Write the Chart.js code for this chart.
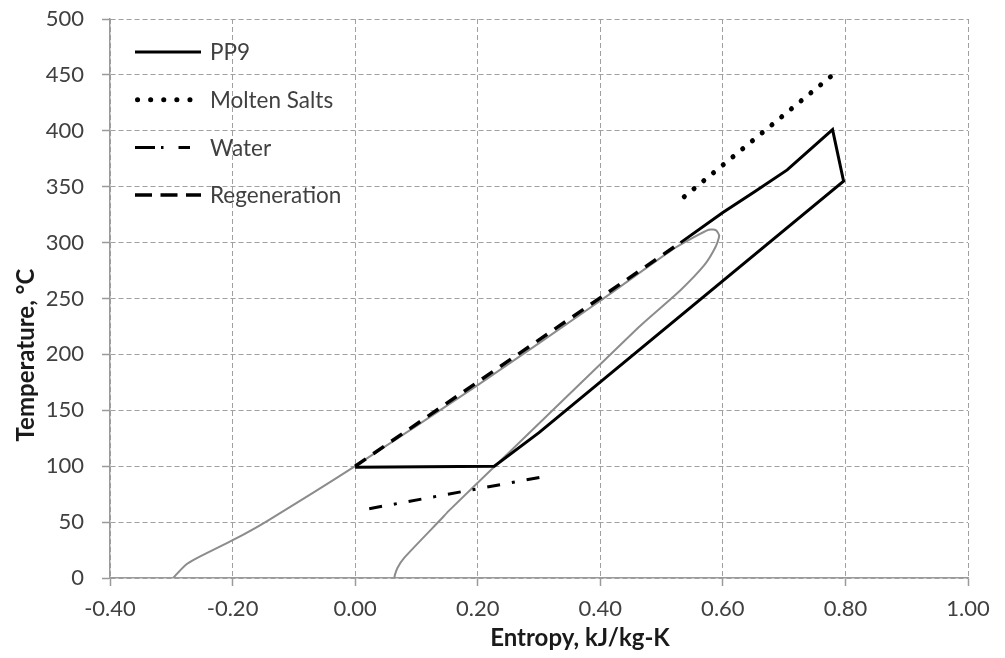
<!DOCTYPE html>
<html>
<head>
<meta charset="utf-8">
<script src="https://cdn.jsdelivr.net/npm/chart.js@4.4.1/dist/chart.umd.min.js"></script>
<style>
  html, body { margin: 0; padding: 0; background: #fff; }
  #wrap { width: 1005px; height: 658px; }
</style>
</head>
<body>
<div id="wrap"><canvas id="tsChart" width="1005" height="658"></canvas></div>
<script>
/* ------------------------------
   DATA (entropy kJ/kg-K, temperature °C)
------------------------------ */
const seriesNames = ['PP9', 'Molten Salts', 'Water', 'Regeneration'];

const pp9S = [0.000, 0.227, 0.300, 0.797, 0.779, 0.705, 0.653, 0.600, 0.531];
const pp9T = [99, 100, 130, 355, 401, 365, 346, 327, 300];

const saltS = [0.537, 0.777];
const saltT = [341, 449];

const waterS = [0.023, 0.306];
const waterT = [62, 90.5];

const regenS = [0.000, 0.531];
const regenT = [100, 300];

// grey saturation curve of the working fluid
const domeS = [-0.297, -0.278, -0.259, -0.199, -0.145, 0.000, 0.200, 0.400, 0.517, 0.550, 0.577, 0.589, 0.594, 0.588, 0.570, 0.530, 0.463, 0.230, 0.154, 0.140, 0.080, 0.069, 0.065, 0.064];
const domeT = [0, 11, 17.5, 34, 50.5, 100, 172.5, 248, 293.5, 304, 311.5, 311, 306, 296, 280, 257, 224.5, 101, 60.7, 52.5, 18, 9, 3, 0];

const xTickLabels = ['-0.40', '-0.20', '0.00', '0.20', '0.40', '0.60', '0.80', '1.00'];
const yTickLabels = ['0', '50', '100', '150', '200', '250', '300', '350', '400', '450', '500'];

const xTitle = 'Entropy, kJ/kg-K';
const yTitle = 'Temperature, °C';

/* ------------------------------
   HELPERS
------------------------------ */
const toPts = (s, t) => s.map((v, i) => ({ x: v, y: t[i] }));

const FONT = 'Lato, "Open Sans", "Liberation Sans", sans-serif';
const TEXT = '#404040';
const GRID = '#a0a0a0';

/* ------------------------------
   LEGEND (inside plot, top left)
------------------------------ */
const insideLegend = {
  id: 'insideLegend',
  afterDraw(chart) {
    const ctx = chart.ctx;
    ctx.save();
    ctx.font = '22.5px ' + FONT;
    ctx.textBaseline = 'middle';
    ctx.textAlign = 'left';
    chart.data.datasets.forEach((ds) => {
      if (ds.legendRow === undefined) return;
      const y = 52 + ds.legendRow * 47.7;
      ctx.save();
      ctx.strokeStyle = ds.borderColor;
      ctx.lineWidth = ds.borderWidth;
      ctx.lineCap = ds.borderCapStyle || 'butt';
      ctx.setLineDash(ds.legendDash);
      ctx.beginPath();
      ctx.moveTo(135 + (ds.legendInset || 0), y);
      ctx.lineTo(135 + ds.legendLen, y);
      ctx.stroke();
      ctx.restore();
      ctx.fillStyle = TEXT;
      ctx.fillText(ds.label, 210, y + 1);
    });
    ctx.restore();
  }
};

/* ------------------------------
   AXIS TITLES
------------------------------ */
const axisTitles = {
  id: 'axisTitles',
  afterDraw(chart) {
    const ctx = chart.ctx;
    ctx.save();
    ctx.font = 'bold 24px ' + FONT;
    ctx.fillStyle = '#1a1a1a';
    ctx.textAlign = 'center';
    ctx.textBaseline = 'middle';
    ctx.fillText(xTitle, 580, 638);
    ctx.translate(26, 355);
    ctx.rotate(-Math.PI / 2);
    ctx.fillText(yTitle, 0, 0);
    ctx.restore();
  }
};

/* ------------------------------
   CHART
------------------------------ */
const ctx = document.getElementById('tsChart');
new Chart(ctx, {
  type: 'scatter',
  data: {
    datasets: [
      {
        label: seriesNames[0],
        data: toPts(pp9S, pp9T),
        showLine: true,
        borderColor: '#000',
        borderWidth: 3,
        borderJoinStyle: 'miter',
        pointRadius: 0,
        tension: 0,
        order: 0,
        legendRow: 0, legendDash: [], legendLen: 66
      },
      {
        label: seriesNames[1],
        data: toPts(saltS, saltT),
        showLine: true,
        borderColor: '#000',
        borderWidth: 5,
        borderCapStyle: 'round',
        borderDash: [0.1, 12.5],
        pointRadius: 0,
        order: 0,
        legendRow: 1, legendDash: [0.1, 13], legendLen: 66, legendInset: 2.5
      },
      {
        label: seriesNames[2],
        data: toPts(waterS, waterT),
        showLine: true,
        borderColor: '#000',
        borderWidth: 3,
        borderDash: [13, 12, 3, 12],
        pointRadius: 0,
        order: 0,
        legendRow: 2, legendDash: [20, 6, 2.5, 15], legendLen: 55
      },
      {
        label: seriesNames[3],
        data: toPts(regenS, regenT),
        showLine: true,
        borderColor: '#000',
        borderWidth: 3.5,
        borderDash: [13, 9],
        pointRadius: 0,
        order: 0,
        legendRow: 3, legendDash: [17, 8.5], legendLen: 66
      },
      {
        label: 'dome',
        data: toPts(domeS, domeT),
        showLine: true,
        borderColor: '#8c8c8c',
        borderWidth: 2,
        pointRadius: 0,
        tension: 0.2,
        order: 5
      }
    ]
  },
  options: {
    responsive: false,
    maintainAspectRatio: false,
    animation: false,
    devicePixelRatio: 1,
    layout: { autoPadding: false, padding: { top: 19, right: 37, left: 0, bottom: 0 } },
    plugins: {
      legend: { display: false },
      title: { display: false },
      tooltip: { enabled: false }
    },
    scales: {
      x: {
        type: 'linear',
        min: -0.4,
        max: 1.0,
        afterFit: (scale) => {
          scale.height = 80;
          scale.paddingLeft = 0;
          scale.paddingRight = 0;
        },
        afterBuildTicks: (scale) => {
          scale.ticks = xTickLabels.map(l => ({ value: parseFloat(l) }));
        },
        ticks: {
          autoSkip: false,
          maxRotation: 0,
          padding: 10,
          color: TEXT,
          font: { family: FONT, size: 22 },
          callback: (v, i) => xTickLabels[i]
        },
        grid: {
          color: GRID,
          lineWidth: 1,
          tickLength: 8,
          tickColor: '#9a9a9a',
          tickWidth: 1.5,
          tickBorderDash: []
        },
        border: { display: true, color: '#9a9a9a', width: 1.5, dash: [5, 3] }
      },
      y: {
        type: 'linear',
        min: 0,
        max: 500,
        afterFit: (scale) => {
          scale.width = 110;
          scale.paddingTop = 0;
          scale.paddingBottom = 0;
        },
        afterBuildTicks: (scale) => {
          scale.ticks = yTickLabels.map(l => ({ value: parseFloat(l) }));
        },
        ticks: {
          autoSkip: false,
          padding: 18,
          color: TEXT,
          font: { family: FONT, size: 22 },
          callback: (v, i) => yTickLabels[i]
        },
        grid: {
          color: GRID,
          lineWidth: 1,
          tickLength: 8,
          tickColor: '#9a9a9a',
          tickWidth: 1.5,
          tickBorderDash: []
        },
        border: { display: true, color: '#9a9a9a', width: 1.5, dash: [5, 3] }
      }
    }
  },
  plugins: [insideLegend, axisTitles]
});
</script>
</body>
</html>
